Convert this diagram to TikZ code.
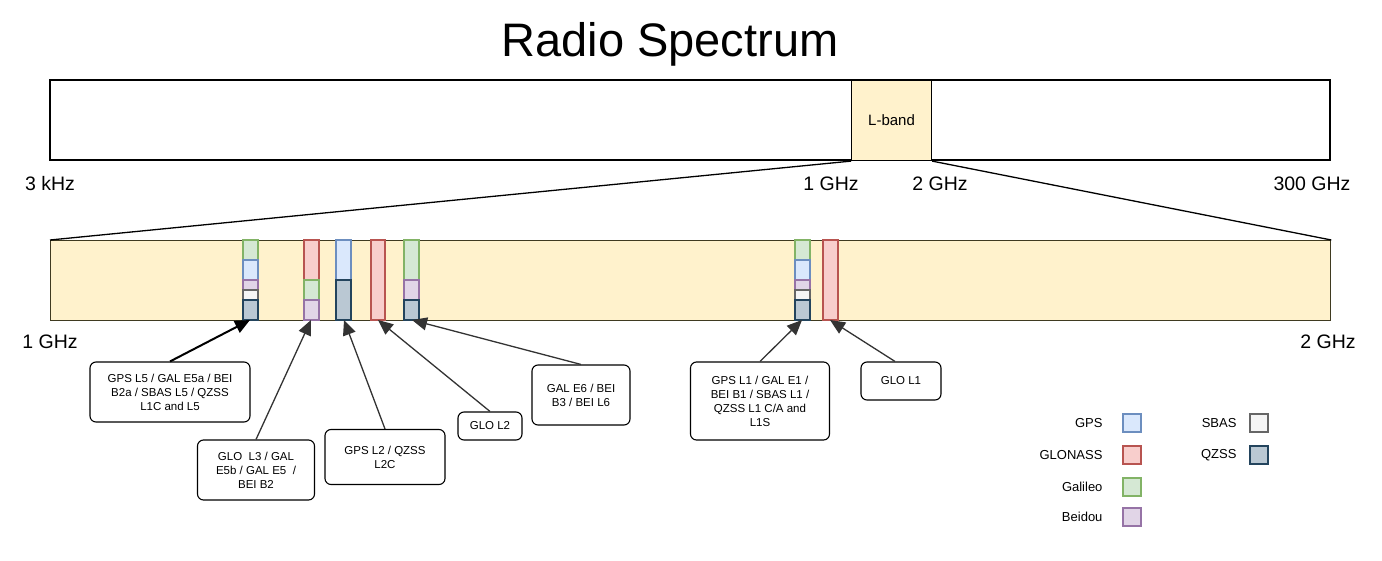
\documentclass[tikz,border=0pt]{standalone}
\usepackage{fontspec}
\setmainfont{Liberation Sans}
\usetikzlibrary{arrows.meta}
\definecolor{gpsF}{HTML}{DAE8FC}\definecolor{gpsD}{HTML}{6C8EBF}
\definecolor{gloF}{HTML}{F8CECC}\definecolor{gloD}{HTML}{B85450}
\definecolor{galF}{HTML}{D5E8D4}\definecolor{galD}{HTML}{82B366}
\definecolor{beiF}{HTML}{E1D5E7}\definecolor{beiD}{HTML}{9673A6}
\definecolor{sbaF}{HTML}{F5F5F5}\definecolor{sbaD}{HTML}{666666}
\definecolor{qzF}{HTML}{BAC8D3}\definecolor{qzD}{HTML}{23445D}
\definecolor{lbF}{HTML}{FFF2CC}\definecolor{lbD}{HTML}{3F3A20}
\definecolor{arr}{HTML}{333333}
\begin{document}
\begin{tikzpicture}[x=1pt,y=-1pt,
 gps/.style={fill=gpsF,draw=gpsD,line width=1.7pt},
 glo/.style={fill=gloF,draw=gloD,line width=1.7pt},
 gal/.style={fill=galF,draw=galD,line width=1.7pt},
 bei/.style={fill=beiF,draw=beiD,line width=1.7pt},
 sba/.style={fill=sbaF,draw=sbaD,line width=1.7pt},
 qz/.style={fill=qzF,draw=qzD,line width=1.7pt},
 lbl/.style={font=\fontsize{19.5}{22}\selectfont},
 call/.style={draw,line width=1.1pt,rounded corners=6pt,fill=white,align=center,font=\fontsize{11.5}{14}\selectfont,inner sep=4pt},
 arw/.style={draw=arr,line width=1.3pt,-{Triangle[length=15pt,width=13pt]}},
 leg/.style={font=\fontsize{13}{14}\selectfont,anchor=east}]
\useasboundingbox (0,0) rectangle (1382,560);
\node[font=\fontsize{47}{50}\selectfont] (title) at (670,44) {Radio Spectrum};
\draw[line width=1.1pt] (50,80) rectangle (1330,160);
\node[draw=black,line width=1.1pt,fill=lbF,minimum width=80pt,minimum height=80pt,anchor=north west,inner sep=0pt,font=\fontsize{15}{17}\selectfont] (lb) at (851,80) {L-band};
\node[lbl] (k3) at (50,184) {3 kHz};
\node[lbl] (g1) at (831,184) {1 GHz};
\node[lbl] (g2) at (940,184) {2 GHz};
\node[lbl] (g300) at (1312,184) {300 GHz};
\node[draw=lbD,line width=1.3pt,fill=lbF,minimum width=1280pt,minimum height=80pt,anchor=north west,inner sep=0pt] (bb) at (50,240) {};
\draw[line width=1.3pt] (lb.south west) -- (bb.north west);
\draw[line width=1.3pt] (lb.south east) -- (bb.north east);
\node[lbl] (b1) at (50,342) {1 GHz};
\node[lbl] (b2) at (1328,342) {2 GHz};
% bars
\foreach \x in {243,795}{
 \draw[gal] (\x,240) rectangle ++(15,20);
 \draw[gps] (\x,260) rectangle ++(15,20);
 \draw[bei] (\x,280) rectangle ++(15,10);
 \draw[sba] (\x,290) rectangle ++(15,10);
 \draw[qz] (\x,300) rectangle ++(15,20);}
\draw[glo] (304,240) rectangle ++(15,40);
\draw[gal] (304,280) rectangle ++(15,20);
\draw[bei] (304,300) rectangle ++(15,20);
\draw[gps] (336,240) rectangle ++(15,40);
\draw[qz] (336,280) rectangle ++(15,40);
\draw[glo] (371,240) rectangle ++(14,80);
\draw[gal] (404,240) rectangle ++(15,40);
\draw[bei] (404,280) rectangle ++(15,20);
\draw[qz] (404,300) rectangle ++(15,20);
\draw[glo] (823,240) rectangle ++(15,80);
\coordinate (t1) at (250,320);\coordinate (t2) at (311,320);\coordinate (t3) at (344,320);
\coordinate (t4) at (378,320);\coordinate (t5) at (412,320);\coordinate (t6) at (802,320);\coordinate (t7) at (830,320);
% callouts
\node[call,minimum width=160pt,minimum height=60pt] (c1) at (170,392) {GPS L5 / GAL E5a / BEI\\B2a / SBAS L5 / QZSS\\L1C and L5};
\node[call,minimum width=117pt,minimum height=60pt] (c2) at (256,470) {GLO\ \ L3 / GAL\\E5b / GAL E5\ \ /\\BEI B2};
\node[call,minimum width=120pt,minimum height=55pt] (c3) at (385,457) {GPS L2 / QZSS\\L2C};
\node[call,minimum width=64pt,minimum height=28pt] (c4) at (490,426) {GLO L2};
\node[call,minimum width=98pt,minimum height=60pt] (c5) at (581,395) {GAL E6 / BEI\\B3 / BEI L6};
\node[call,minimum width=139pt,minimum height=78pt] (c6) at (760,401) {GPS L1 / GAL E1 /\\BEI B1 / SBAS L1 /\\QZSS L1 C/A and\\L1S};
\node[call,minimum width=80pt,minimum height=38pt] (c7) at (901,381) {GLO L1};
\draw[arw,draw=black,line width=2pt] (c1.north) -- (t1);
\draw[arw] (c2.north) -- (t2);
\draw[arw] (c3.north) -- (t3);
\draw[arw] (c4.north) -- (t4);
\draw[arw] (c5.north) -- (t5);
\draw[arw] (c6.north) -- (t6);
\draw[arw] (c7.north -| 895,0) -- (t7);
% legend
\node[leg] (lg1) at (1106,423) {GPS};
\node[gps,minimum size=18pt,inner sep=0pt] (k1) at (1132,423) {};
\node[leg] (lg2) at (1106,455) {GLONASS};
\node[glo,minimum size=18pt,inner sep=0pt] (k2) at (1132,455) {};
\node[leg] (lg3) at (1106,487) {Galileo};
\node[gal,minimum size=18pt,inner sep=0pt] (k3b) at (1132,487) {};
\node[leg] (lg4) at (1106,517) {Beidou};
\node[bei,minimum size=18pt,inner sep=0pt] (k4) at (1132,517) {};
\node[leg] (lg5) at (1240,423) {SBAS};
\node[sba,minimum size=18pt,inner sep=0pt] (k5) at (1259,423) {};
\node[leg] (lg6) at (1240,455) {QZSS};
\node[qz,minimum size=18pt,inner sep=0pt] (k6) at (1259,455) {};
\end{tikzpicture}
\end{document}
